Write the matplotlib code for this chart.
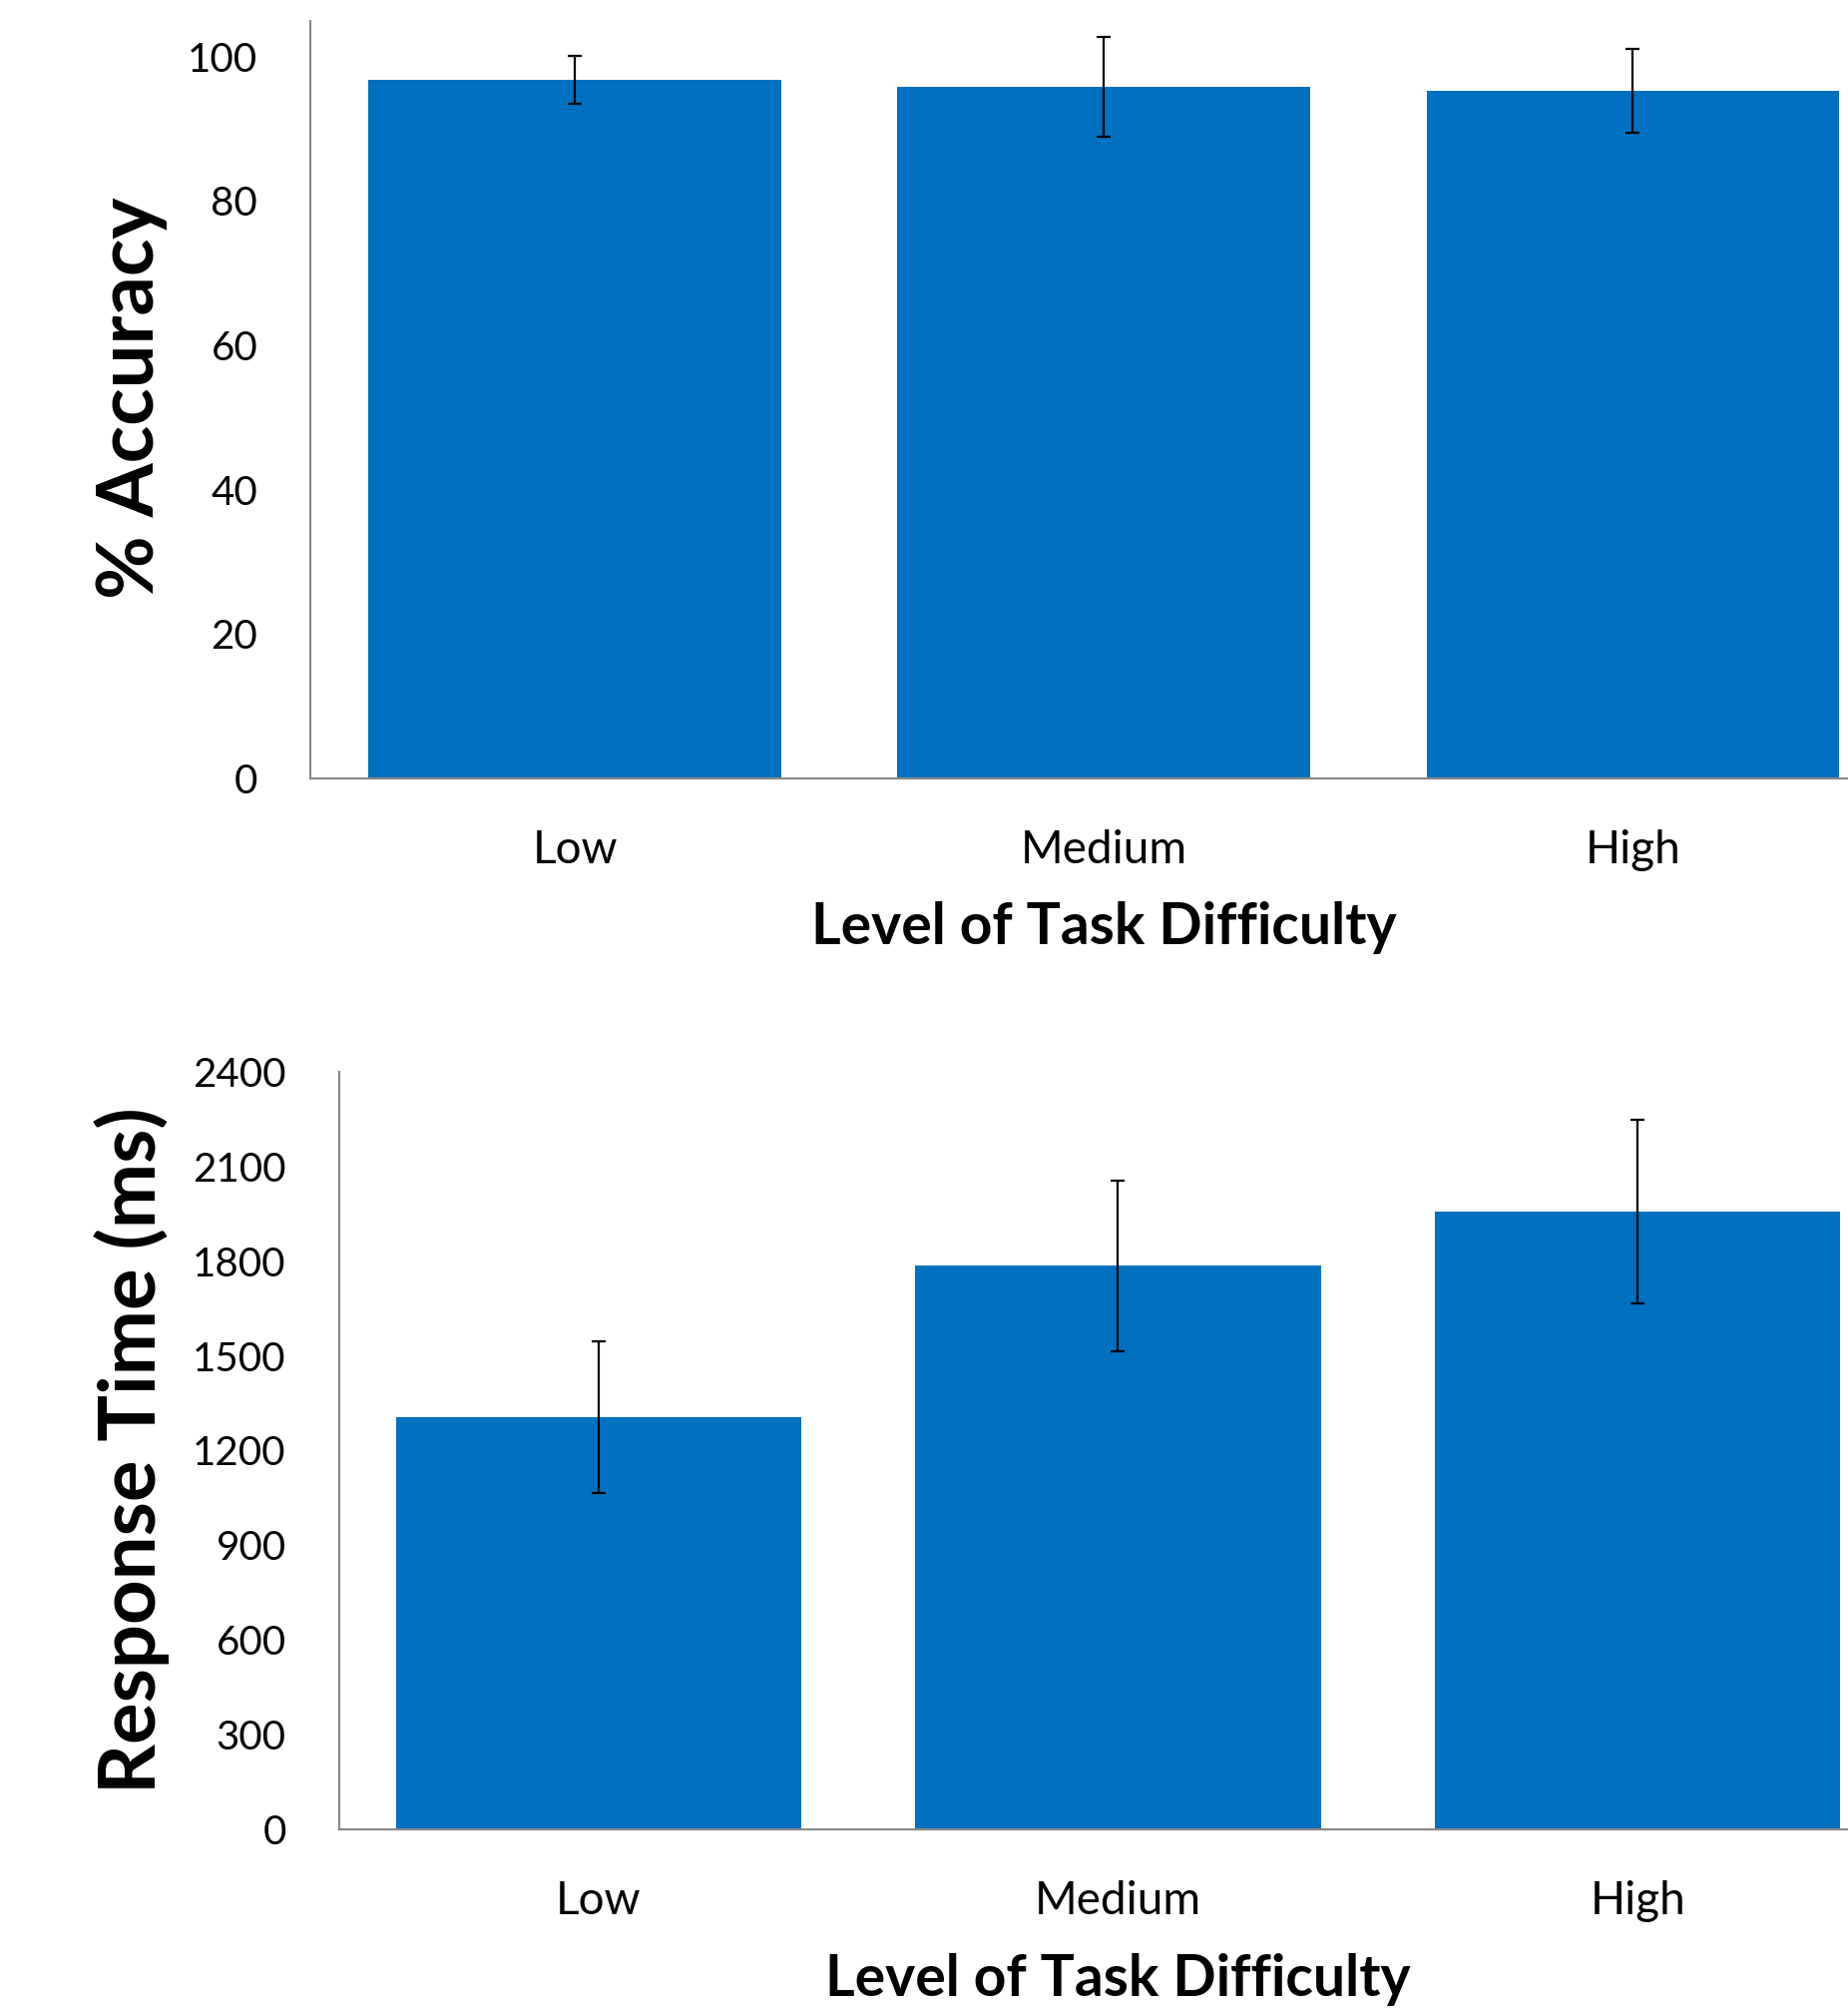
import matplotlib
matplotlib.use("Agg")
import matplotlib.pyplot as plt

categories = ["Low", "Medium", "High"]
accuracy = [96.8, 95.8, 95.3]
accuracy_err = [3.3, 6.9, 5.8]
rt = [1306, 1786, 1958]
rt_err = [240, 270, 291]
acc_ticks = [0, 20, 40, 60, 80, 100]
rt_ticks = [0, 300, 600, 900, 1200, 1500, 1800, 2100, 2400]

plt.rcParams['font.family'] = ['Lato', 'DejaVu Sans']
W, H = 1852, 2017
fig = plt.figure(figsize=(W / 100, H / 100), dpi=100)

bar_color = "#0070C0"
spine_color = "#898989"


def draw(rect, vals, errs, ylim, ticks, ylabel, ylab_xy, xlab_y):
    ax = fig.add_axes(rect)
    x = list(range(len(categories)))
    ax.bar(x, vals, width=0.78, color=bar_color, zorder=2)
    ax.errorbar(x, vals, yerr=errs, fmt='none', ecolor='black',
                elinewidth=1.6, capsize=5, capthick=1.6, zorder=3)
    ax.set_xlim(-0.5, len(categories) - 0.5)
    ax.set_ylim(*ylim)
    ax.set_yticks(ticks)
    ax.set_yticklabels([str(t) for t in ticks])
    ax.set_xticks(x)
    ax.set_xticklabels(categories)
    for s in ['top', 'right']:
        ax.spines[s].set_visible(False)
    for s in ['left', 'bottom']:
        ax.spines[s].set_color(spine_color)
        ax.spines[s].set_linewidth(1.6)
    ax.tick_params(axis='y', length=0, pad=38, labelsize=29)
    ax.tick_params(axis='x', length=0, pad=37, labelsize=33)
    fig.text(ylab_xy[0], ylab_xy[1], ylabel, rotation=90, ha='center',
             va='center', fontsize=56, fontweight='bold')
    fig.text(rect[0] + rect[2] / 2, xlab_y,
             "Level of Task Difficulty", ha='center', va='center',
             fontsize=41, fontweight='bold')
    return ax


right = 1901.5 / W
# top chart
l1 = 311 / W
b1 = 1 - 780 / H
t1 = 1 - 20.7 / H
ax1 = draw([l1, b1, right - l1, t1 - b1], accuracy, accuracy_err, (0, 105),
           acc_ticks, "% Accuracy", (132 / W, 1 - 399 / H), 1 - 930 / H)

# bottom chart
l2 = 339.5 / W
b2 = 1 - 1833 / H
t2 = 1 - 1074 / H
ax2 = draw([l2, b2, right - l2, t2 - b2], rt, rt_err, (0, 2400),
           rt_ticks, "Response Time (ms)", (132 / W, 1 - 1453 / H), 1 - 1983 / H)

fig.savefig("out.png", dpi=100)
